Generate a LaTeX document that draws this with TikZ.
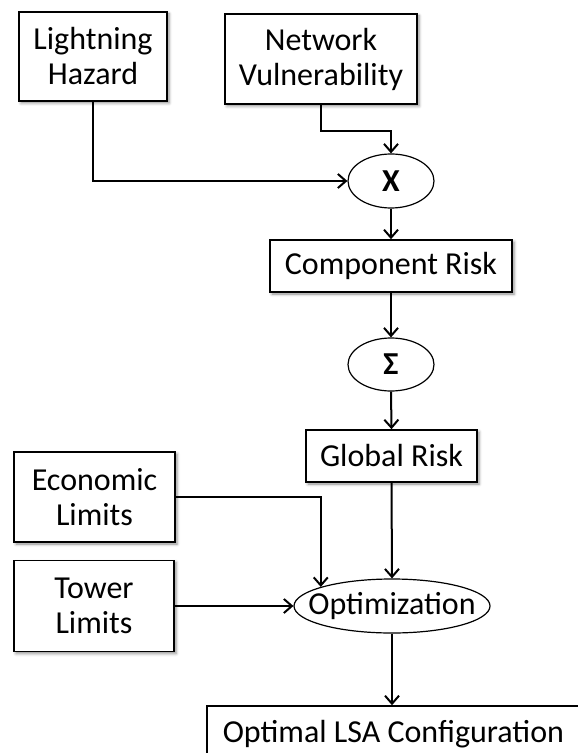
\documentclass[tikz,border=0pt]{standalone}
\usepackage{fontspec}
\setmainfont{Carlito}
\usetikzlibrary{arrows.meta,shapes.geometric,shadows.blur}

\begin{document}
\begin{tikzpicture}[x=0.5pt,y=-0.5pt,
  box/.style={shape=rectangle, draw=black, line width=0.8pt, fill=white, inner sep=0pt, align=center,
    font=\fontsize{16}{17.5}\selectfont,
    blur shadow={shadow xshift=1pt, shadow yshift=-1pt, shadow blur radius=1.5pt, shadow opacity=45}},
  oval/.style={shape=ellipse, draw=black, line width=0.6pt, fill=white, inner sep=0pt,
    font=\fontsize{16}{17.5}\selectfont},
  arr/.style={draw=black, line width=1pt, -{Straight Barb[length=4pt,width=7pt]}}]
\useasboundingbox (0,0) rectangle (577,753);

\node[box, minimum width=74pt, minimum height=44.5pt](light) at (93,56.5) {Lightning\\Hazard};
\node[box, minimum width=96pt, minimum height=45pt](netw) at (321,59) {Network\\Vulnerability};
\node[oval, minimum width=43pt, minimum height=27pt](mult) at (391,181) {\textbf{X}};
\node[box, minimum width=121pt, minimum height=26pt](comp) at (391,266) {Component Risk};
\node[oval, minimum width=43pt, minimum height=26.5pt](sum) at (391,364.5) {\textbf{Σ}};
\node[box, minimum width=85.5pt, minimum height=26pt](glob) at (391.5,456) {Global Risk};
\node[box, minimum width=80.5pt, minimum height=45pt](econ) at (94.5,497) {Economic\\Limits};
\node[box, minimum width=80pt, minimum height=45.5pt](tower) at (94,606) {Tower\\Limits};
\node[oval, inner xsep=-8pt, minimum width=98pt, minimum height=27pt](opt) at (392,606) {Optimization};
% runs off the page at the right and bottom
\node[box, anchor=base west, inner xsep=8pt, text height=18pt, text depth=15pt](lsa)
  at (206,742) {\makebox[190pt][l]{Optimal LSA Configuration}};

% inputs to the product
\draw[arr] (netw.south) -- ++(0,26) -| (mult.north);
\draw[arr] (light.south) |- (mult.west);

% risk chain
\draw[arr] (mult.south) -- (comp.north);
\draw[arr] (comp.south) -- (sum.north);
\draw[arr] (sum.south) -- (glob.north);

% optimization
\draw[arr] (glob.south) -- (opt.north);
\draw[arr] (econ.east) -| (opt.165);
\draw[arr] (tower.east) -- (opt.west);
\draw[arr] (opt.south) -- (opt.south |- lsa.north);
\end{tikzpicture}
\end{document}
